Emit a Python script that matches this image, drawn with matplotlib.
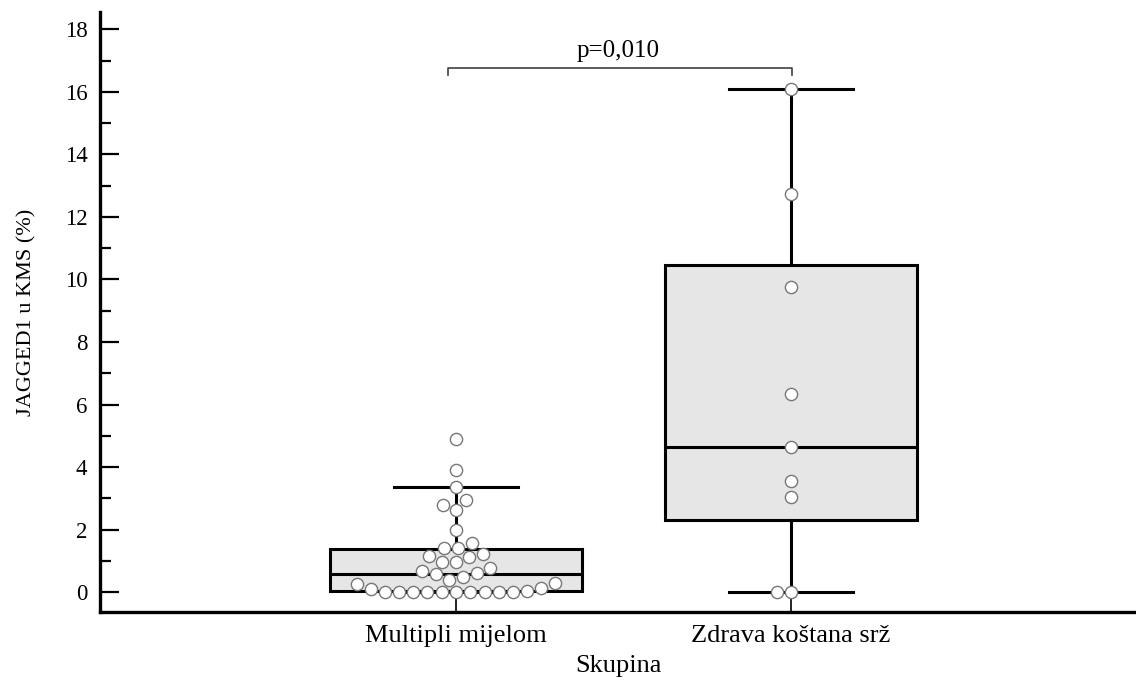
import numpy as np
import pandas as pd
import matplotlib
matplotlib.use('Agg')
import matplotlib.pyplot as plt
import seaborn as sns

groups = ['Multipli mijelom', 'Zdrava koštana srž']

# JAGGED1 u KMS (%) per patient
mm_values = [4.90, 3.89, 3.37, 2.93, 2.79, 2.61, 1.99, 1.56, 1.42, 1.40,
             1.21, 1.15, 1.13, 0.97, 0.97, 0.78, 0.68, 0.60, 0.57, 0.49,
             0.38, 0.30, 0.25, 0.14, 0.09, 0.04, 0.01,
             0, 0, 0, 0, 0, 0, 0, 0, 0]
zks_values = [16.1, 12.74, 9.76, 6.34, 4.65, 3.55, 3.04, 0, 0]

# box summary (as drawn in the original)
whis_low = [0.0, 0.0]
q1 = [0.04, 2.30]
median = [0.58, 4.65]
q3 = [1.37, 10.47]
whis_high = [3.37, 16.08]

p_text = 'p=0,010'

plt.rcParams['font.family'] = ['Liberation Serif', 'DejaVu Serif']

fig = plt.figure(figsize=(11.36, 6.81), dpi=100)
ax = fig.add_axes([0.088, 0.1013, 0.912, 0.8811])

stats = []
for i in range(len(groups)):
    stats.append({'label': groups[i], 'whislo': whis_low[i], 'q1': q1[i],
                  'med': median[i], 'q3': q3[i], 'whishi': whis_high[i]})

ax.bxp(stats, positions=[0, 1], widths=0.75, capwidths=0.37, patch_artist=True,
       showfliers=False,
       boxprops=dict(facecolor='#e6e6e6', edgecolor='black', linewidth=2.2),
       whiskerprops=dict(color='black', linewidth=2.2),
       capprops=dict(color='black', linewidth=2.2),
       medianprops=dict(color='black', linewidth=2.2))

df = pd.DataFrame({'group': [groups[0]] * len(mm_values) + [groups[1]] * len(zks_values),
                   'value': mm_values + zks_values})
sns.swarmplot(data=df, x='group', y='value', order=groups, ax=ax, size=8.8,
              color='white', edgecolor='#777777', linewidth=1.0, zorder=5)

# significance bracket
ax.plot([-0.024, -0.024, 1.003, 1.003], [16.54, 16.77, 16.77, 16.54],
        color='#404040', lw=1.2, clip_on=False)
ax.text(0.484, 17.12, p_text, ha='center', va='baseline', fontsize=18)

ax.set_xlim(-1.063, 2.03)
ax.set_ylim(-0.64, 18.56)
ax.set_xticks([0, 1])
ax.set_xticklabels(groups)
ax.set_yticks(np.arange(0, 19, 2))
ax.set_yticks(np.arange(1, 19, 2), minor=True)

for s in ['top', 'right']:
    ax.spines[s].set_visible(False)
ax.spines['left'].set_linewidth(2.4)
ax.spines['bottom'].set_linewidth(2.4)

ax.tick_params(axis='y', which='major', direction='in', length=14, width=1.6, labelsize=16.5, pad=9)
ax.tick_params(axis='y', which='minor', direction='in', length=8, width=1.6)
ax.tick_params(axis='x', which='major', direction='in', length=15, width=1.2, labelsize=19, pad=9)

ax.set_xlabel('Skupina', fontsize=19, labelpad=6)
ax.set_ylabel('JAGGED1 u KMS (%)', fontsize=16, labelpad=20)

fig.savefig('out.png', dpi=100)
